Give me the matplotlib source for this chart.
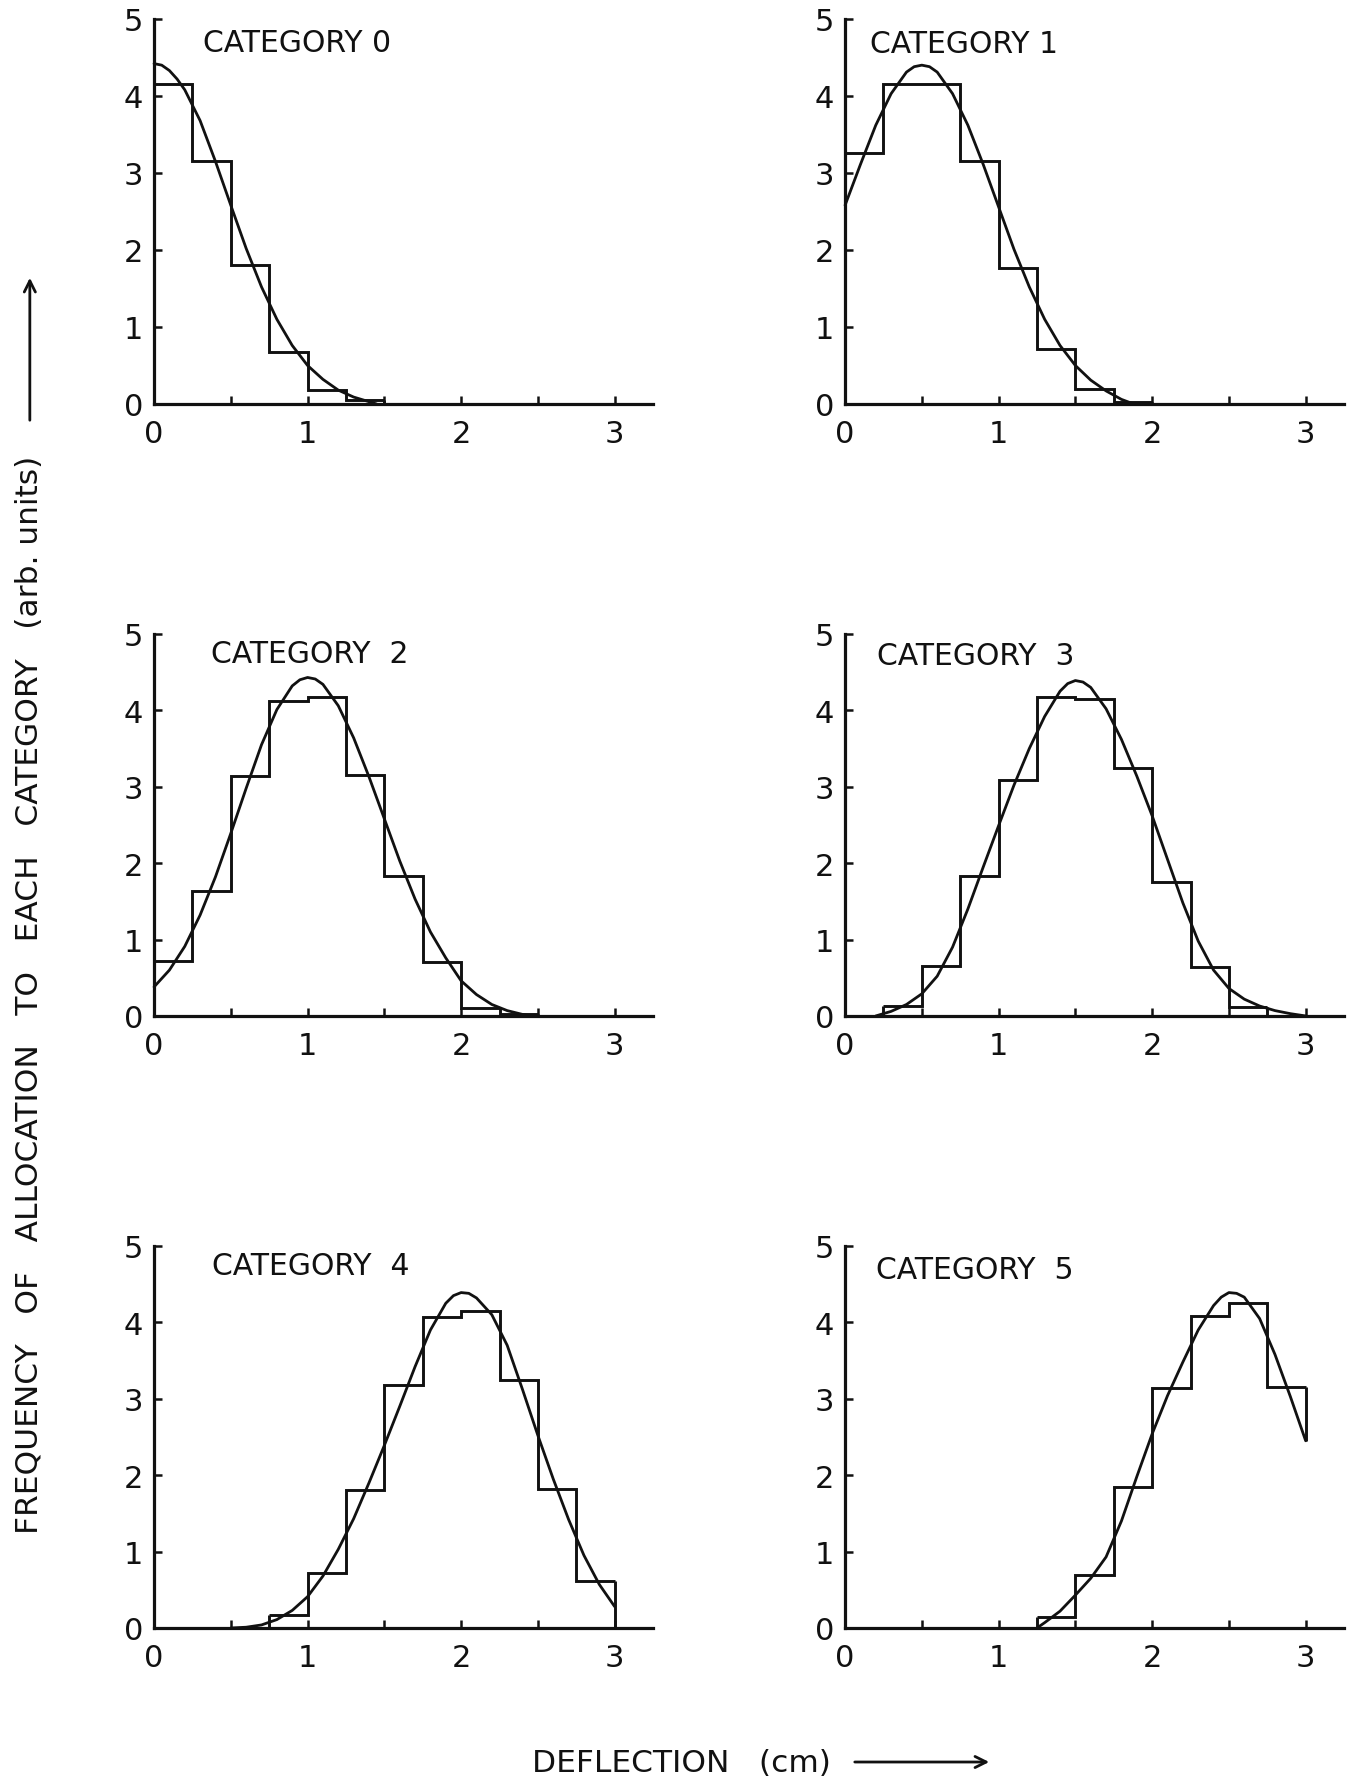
import matplotlib
matplotlib.use("Agg")
import matplotlib.pyplot as plt
from matplotlib.patches import FancyArrowPatch
from matplotlib.ticker import MultipleLocator, FuncFormatter

plt.rcParams['font.family'] = ['DejaVu Sans']

# ---------------- data ----------------
categories = ["CATEGORY 0", "CATEGORY 1", "CATEGORY  2", "CATEGORY  3", "CATEGORY  4", "CATEGORY  5"]
bin_width = 0.25
hist_start = [0.0, 0.0, 0.0, 0.25, 0.75, 1.25]
hist_heights = [
    [4.15, 3.16, 1.81, 0.67, 0.18, 0.05],
    [3.26, 4.16, 4.16, 3.15, 1.77, 0.72, 0.20, 0.03],
    [0.72, 1.64, 3.14, 4.12, 4.17, 3.15, 1.83, 0.71, 0.11, 0.02],
    [0.13, 0.65, 1.83, 3.09, 4.18, 4.15, 3.25, 1.75, 0.64, 0.12],
    [0.17, 0.72, 1.80, 3.18, 4.07, 4.15, 3.25, 1.82, 0.62],
    [0.15, 0.69, 1.84, 3.14, 4.08, 4.25, 3.15],
]
# level down to which the right-hand edge of each histogram is drawn
hist_right_drop = [0.0, 0.0, 0.0, 0.0, 0.0, 2.45]

curve_x = [
    [0.0, 0.05, 0.1, 0.15, 0.2, 0.3, 0.4, 0.5, 0.6, 0.7, 0.8, 0.9, 1.0, 1.1, 1.2, 1.3, 1.4, 1.45],
    [0.0, 0.1, 0.2, 0.3, 0.4, 0.45, 0.5, 0.55, 0.6, 0.7, 0.8, 0.9, 1.0, 1.1, 1.2, 1.3, 1.4, 1.5,
     1.6, 1.7, 1.8, 1.88],
    [0.0, 0.1, 0.2, 0.3, 0.4, 0.5, 0.6, 0.7, 0.8, 0.9, 0.95, 1.0, 1.05, 1.1, 1.2, 1.3, 1.4, 1.5,
     1.6, 1.7, 1.8, 1.9, 2.0, 2.1, 2.2, 2.3, 2.4, 2.45],
    [0.2, 0.3, 0.4, 0.5, 0.6, 0.7, 0.8, 0.9, 1.0, 1.1, 1.2, 1.3, 1.4, 1.45, 1.5, 1.55, 1.6, 1.7,
     1.8, 1.9, 2.0, 2.1, 2.2, 2.3, 2.4, 2.5, 2.6, 2.7, 2.8, 2.9, 3.0],
    [0.5, 0.6, 0.7, 0.8, 0.9, 1.0, 1.1, 1.2, 1.3, 1.4, 1.5, 1.6, 1.7, 1.8, 1.9, 1.95, 2.0, 2.05,
     2.1, 2.2, 2.3, 2.4, 2.5, 2.6, 2.7, 2.8, 2.9, 3.0],
    [1.25, 1.3, 1.4, 1.5, 1.6, 1.7, 1.8, 1.9, 2.0, 2.1, 2.2, 2.3, 2.4, 2.45, 2.5, 2.55, 2.6, 2.7,
     2.8, 2.9, 3.0],
]
curve_y = [
    [4.42, 4.40, 4.33, 4.22, 4.08, 3.68, 3.15, 2.58, 2.02, 1.52, 1.10, 0.76, 0.50, 0.32, 0.18,
     0.09, 0.03, 0.0],
    [2.58, 3.11, 3.62, 4.03, 4.31, 4.38, 4.40, 4.38, 4.31, 4.03, 3.62, 3.11, 2.56, 2.01, 1.52,
     1.10, 0.76, 0.50, 0.31, 0.17, 0.06, 0.0],
    [0.38, 0.60, 0.91, 1.32, 1.82, 2.39, 2.98, 3.55, 4.01, 4.32, 4.40, 4.43, 4.41, 4.34, 4.06,
     3.64, 3.13, 2.58, 2.03, 1.53, 1.10, 0.76, 0.46, 0.28, 0.15, 0.07, 0.02, 0.0],
    [0.0, 0.06, 0.15, 0.29, 0.52, 0.90, 1.40, 1.95, 2.49, 3.02, 3.50, 3.92, 4.25, 4.35, 4.39,
     4.37, 4.30, 4.02, 3.62, 3.14, 2.62, 2.05, 1.48, 0.98, 0.60, 0.36, 0.22, 0.13, 0.07, 0.03, 0.0],
    [0.0, 0.01, 0.04, 0.11, 0.23, 0.41, 0.68, 1.03, 1.43, 1.90, 2.39, 2.90, 3.42, 3.90, 4.25,
     4.35, 4.39, 4.38, 4.32, 4.10, 3.70, 3.12, 2.52, 1.95, 1.42, 0.95, 0.57, 0.28],
    [0.0, 0.07, 0.22, 0.43, 0.65, 0.93, 1.40, 1.98, 2.54, 3.04, 3.48, 3.90, 4.22, 4.33, 4.39,
     4.38, 4.33, 4.05, 3.58, 3.03, 2.45],
]

label_pos = [(0.32, 4.70), (0.16, 4.68), (0.37, 4.74), (0.21, 4.72), (0.38, 4.74), (0.20, 4.69)]

x_ticks_labelled = [0, 1, 2, 3]
y_ticks = [0, 1, 2, 3, 4, 5]

ylabel = "FREQUENCY   OF   ALLOCATION   TO   EACH   CATEGORY   (arb. units)"
xlabel = "DEFLECTION   (cm)"

# ---------------- layout ----------------
fig = plt.figure(figsize=(13.56, 17.81), dpi=100)
fig.patch.set_facecolor("white")

lefts = [0.1136, 0.6232]
widths = [0.368, 0.368]
bottoms = [0.7726, 0.4290, 0.08535]
heights = [0.2162, 0.2145, 0.2145]

ink = "#111111"

for i in range(6):
    r, c = divmod(i, 2)
    ax = fig.add_axes([lefts[c], bottoms[r], widths[c], heights[r]])
    ax.set_xlim(0, 3.25)
    ax.set_ylim(0, 5)
    for s in ("top", "right"):
        ax.spines[s].set_visible(False)
    for s in ("left", "bottom"):
        ax.spines[s].set_linewidth(2.3)
        ax.spines[s].set_color(ink)

    h = hist_heights[i]
    n = len(h)
    edges = [hist_start[i] + k * bin_width for k in range(n + 1)]
    ax.stairs(h, edges, baseline=None, fill=False,
              color=ink, linewidth=2.1, clip_on=False)
    ax.vlines([edges[0]], 0, h[0], color=ink, linewidth=2.1)
    ax.vlines([edges[-1]], hist_right_drop[i], h[-1], color=ink, linewidth=2.1)
    ax.plot(curve_x[i], curve_y[i], color=ink, linewidth=2.0, clip_on=False,
            solid_capstyle="round", solid_joinstyle="round")

    ax.xaxis.set_major_locator(MultipleLocator(0.5))
    ax.xaxis.set_major_formatter(FuncFormatter(
        lambda v, p: str(int(round(v))) if round(v) in x_ticks_labelled and abs(v - round(v)) < 1e-6 else ""))
    ax.set_yticks(y_ticks)
    ax.set_yticklabels([str(t) for t in y_ticks])
    ax.tick_params(axis="both", direction="in", length=5.5, width=1.8, color=ink,
                   labelsize=22, labelcolor=ink)
    ax.tick_params(axis="x", pad=11)
    ax.tick_params(axis="y", pad=8)

    ax.text(label_pos[i][0], label_pos[i][1], categories[i], fontsize=21.5,
            ha="left", va="center", color=ink)

# y axis label with arrow
fig.text(0.022, 0.4413, ylabel, rotation=90, ha="center", va="center",
         fontsize=22.5, color=ink)
fig.patches.append(FancyArrowPatch(
    (0.022, 1 - 424 / 1781), (0.022, 1 - 276 / 1781), transform=fig.transFigure,
    arrowstyle="->", mutation_scale=20, linewidth=2.0, color=ink))

# x axis label with arrow
fig.text(532 / 1356, 0.0101, xlabel, ha="left", va="center", fontsize=22.5, color=ink)
fig.patches.append(FancyArrowPatch(
    (852 / 1356, 0.0101), (992 / 1356, 0.0101), transform=fig.transFigure,
    arrowstyle="->", mutation_scale=20, linewidth=2.0, color=ink))

fig.savefig("out.png", dpi=100, facecolor="white")
